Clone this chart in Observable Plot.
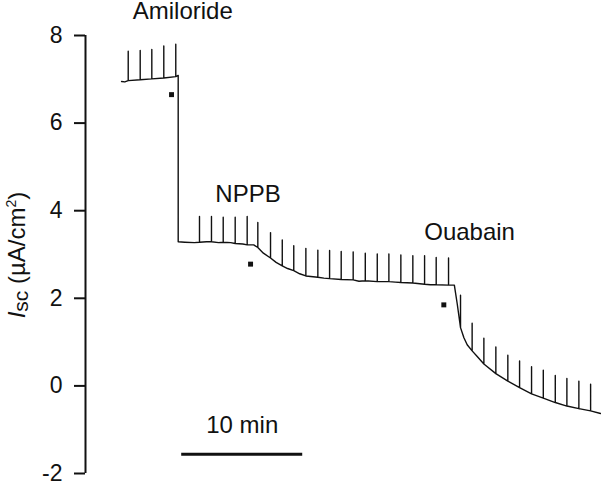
<!DOCTYPE html>
<html><head><meta charset="utf-8">
<script src="https://cdn.jsdelivr.net/npm/d3@7"></script>
<script src="https://cdn.jsdelivr.net/npm/@observablehq/plot@0.6"></script>
<style>
body{margin:0;background:#fff}
svg{font-family:"Liberation Sans",Arial,Helvetica,sans-serif}
</style>
</head><body><div id="chart"></div>
<script>
// Baseline trace (time in min, Isc in µA/cm²)
const baseT = [2.98, 3.25, 7.66, 7.66, 8.2, 9.0, 10.0, 11.0, 12.0, 13.0, 13.9, 14.7, 15.75, 16.7, 17.7, 19.7, 22.6, 25.6, 28.5, 30.44, 30.48, 30.72, 31.27, 31.54, 32.37, 42.56];
const baseV = [6.95, 6.94, 7.09, 3.29, 3.28, 3.27, 3.29, 3.27, 3.27, 3.24, 3.22, 3.03, 2.82, 2.68, 2.56, 2.46, 2.39, 2.37, 2.31, 2.30, 2.30, 1.87, 1.10, 0.94, 0.67, -0.63];
// Calibration pulses (time, base, top)
const spikeT = [3.53,4.52,5.48,6.47,7.46, 9.42,10.41,11.38,12.37,13.36, 14.24,15.29,16.26,17.21,18.21,19.20,20.17,21.13,22.12,23.12,24.11,25.07,26.06,27.05,28.02,28.98,30.00, 30.99,31.95,32.92,33.91,34.90,35.87,36.86,37.83,38.82,39.78,40.77,41.74];
const spikeBase = [6.97,6.99,7.01,7.03,7.06, 3.28,3.29,3.28,3.25,3.22, 3.16,2.92,2.74,2.63,2.51,2.48,2.45,2.43,2.42,2.40,2.38,2.38,2.36,2.35,2.32,2.31,2.30, 1.33,0.80,0.50,0.28,0.11,-0.04,-0.18,-0.28,-0.38,-0.46,-0.52,-0.57];
const spikeTop = [7.64,7.66,7.68,7.76,7.80, 3.87,3.87,3.85,3.85,3.87, 3.73,3.50,3.33,3.20,3.14,3.10,3.09,3.07,3.06,3.03,3.01,3.01,2.99,2.97,2.97,2.93,2.92, 2.07,1.43,1.09,0.89,0.70,0.57,0.44,0.36,0.24,0.17,0.11,0.04];
// Drug annotations
const drugLabels = ["Amiloride", "NPPB", "Ouabain"];
const labelT = [8.04, 13.43, 31.74];
const labelV = [8.38, 4.21, 3.34];
const markerT = [7.11, 13.64, 29.61];
const markerV = [6.65, 2.78, 1.85];
// Axis & scale bar
const yTicks = [-2, 0, 2, 4, 6, 8];
const scaleBarT = [7.95, 17.95];
const scaleBarV = -1.56;
const scaleBarLabel = "10 min";
const scaleLabelV = -1.07;

const pts = baseT.map((t, i) => ({t, v: baseV[i]}));
spikeT.forEach((t, i) => {
  pts.push({t, v: spikeBase[i]}, {t, v: spikeTop[i]}, {t, v: spikeBase[i]});
});
pts.sort((a, b) => a.t - b.t);

const chart = Plot.plot({
  width: 601,
  height: 481,
  marginLeft: 85,
  marginRight: 0,
  marginTop: 35,
  marginBottom: 8,
  style: {fontFamily: '"Liberation Sans", Arial, sans-serif', background: "#fff", overflow: "visible"},
  x: {domain: [0, 42.64], axis: null},
  y: {domain: [d3.min(yTicks), d3.max(yTicks)]},
  marks: [
    Plot.axisY(yTicks, {tickSize: 11, tickPadding: 12, fontSize: 23, strokeWidth: 2, label: null, color: "#111", tickFormat: d => String(d)}),
    Plot.ruleX([0], {y1: d3.min(yTicks), y2: d3.max(yTicks), strokeWidth: 2, stroke: "#111"}),
    Plot.line(pts, {x: "t", y: "v", stroke: "#111", strokeWidth: 1.4}),
    Plot.dot(markerT, {x: d => d, y: (d, i) => markerV[i], symbol: "square", r: 2.8, fill: "#111", stroke: null}),
    Plot.text(drugLabels, {x: (d, i) => labelT[i], y: (d, i) => labelV[i], text: d => d, fontSize: 24, lineAnchor: "bottom", fill: "#111"}),
    Plot.ruleY([scaleBarV], {x1: scaleBarT[0], x2: scaleBarT[1], strokeWidth: 3, stroke: "#111"}),
    Plot.text([scaleBarLabel], {x: (scaleBarT[0] + scaleBarT[1]) / 2, y: scaleLabelV, text: d => d, fontSize: 24, lineAnchor: "bottom", fill: "#111"})
  ]
});
document.getElementById("chart").appendChild(chart);

// Y-axis title with italic I and subscript / superscript
const svg = d3.select(chart);
const title = svg.append("text")
  .attr("transform", "translate(25,255) rotate(-90)")
  .attr("text-anchor", "middle")
  .attr("font-size", 24)
  .attr("fill", "#111");
title.append("tspan").attr("font-style", "italic").text("I");
title.append("tspan").attr("font-size", 21).attr("dy", 3).text("sc");
title.append("tspan").attr("dy", -3).text(" (µA/cm");
title.append("tspan").attr("font-size", 14).attr("dy", -9).text("2");
title.append("tspan").attr("dy", 9).text(")");
</script>
</body></html>
